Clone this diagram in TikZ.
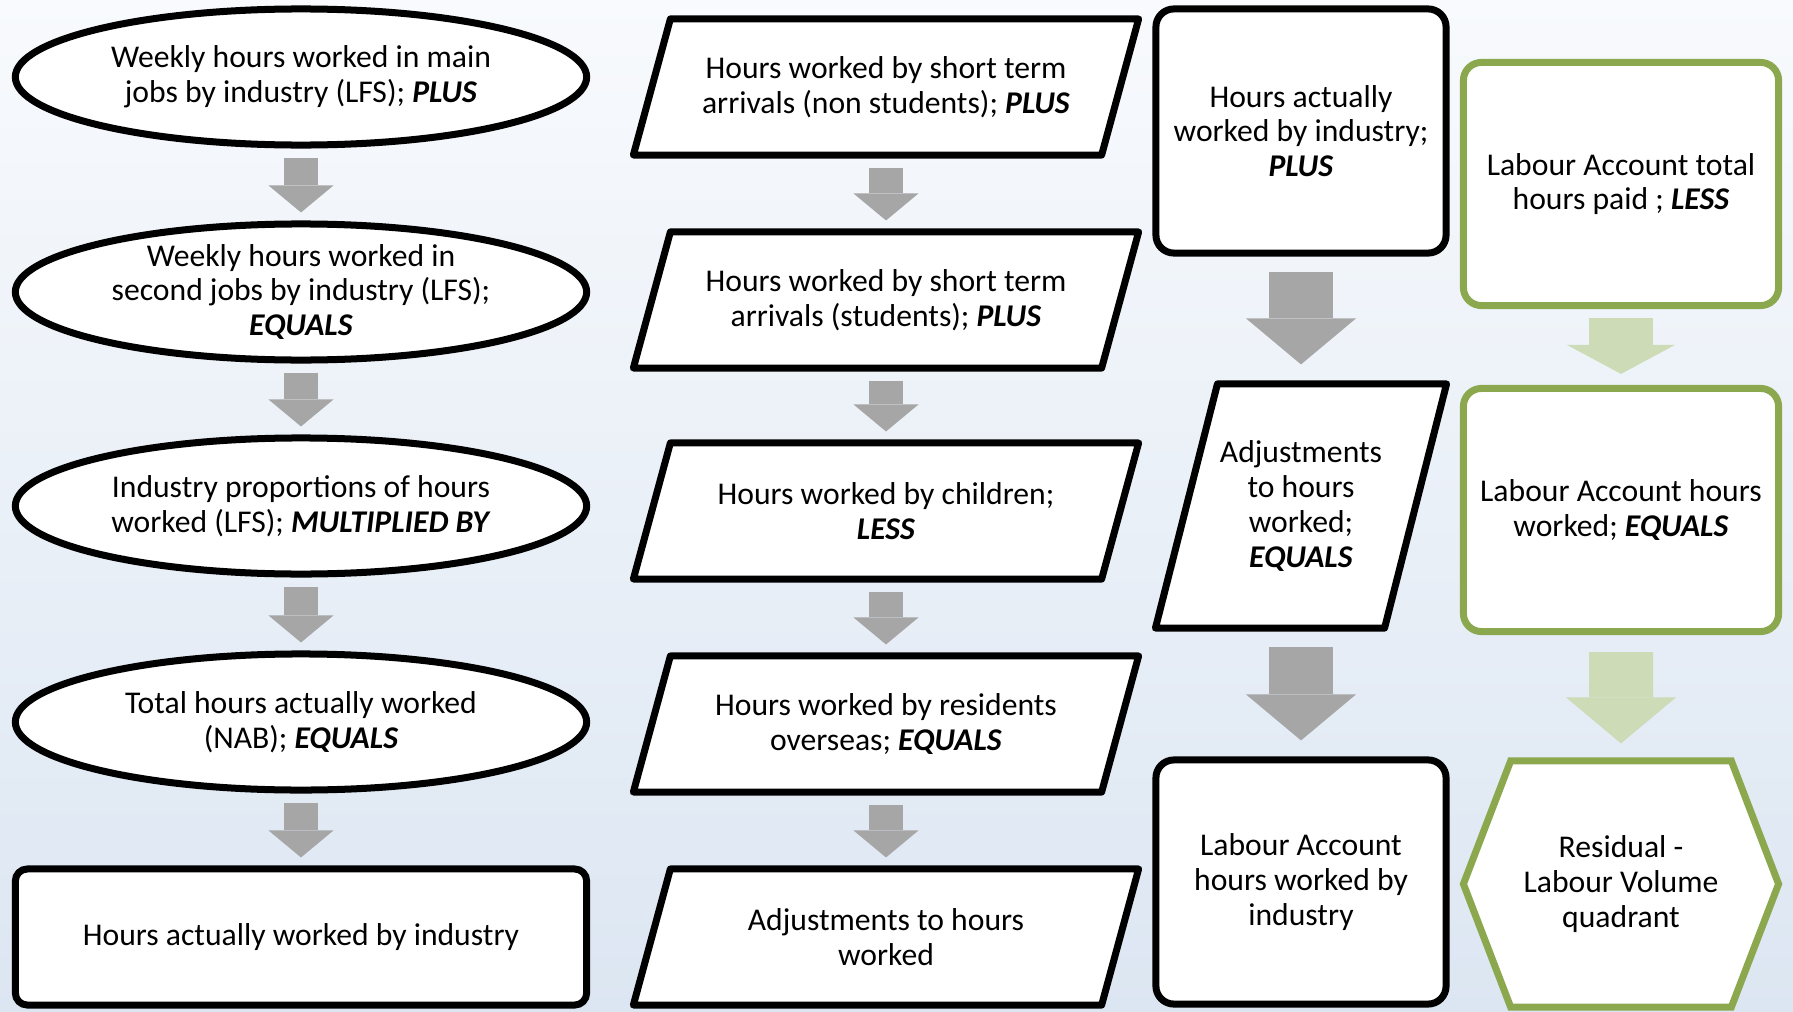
\documentclass[tikz,border=0pt]{standalone}
\usepackage{fontspec}
\setmainfont{Carlito}
\usetikzlibrary{shapes.geometric,shapes.symbols,arrows.meta,calc,backgrounds}
\definecolor{bgtop}{HTML}{F8FAFD}
\definecolor{bgmid}{HTML}{E1E9F4}
\definecolor{bgbottom}{HTML}{DCE6F2}
\definecolor{arrowgray}{HTML}{A6A6A6}
\definecolor{olive}{HTML}{8BA84E}
\definecolor{palegreen}{HTML}{CDDBB6}
\newcommand{\thickness}{0.07cm}
\newcommand{\lbl}{\fontsize{9pt}{9.9pt}\selectfont}
\newcommand{\op}[1]{\textbf{\textit{#1}}}
\newcommand{\slantpath}[2]{\draw[slantline] ($(#1.south west)+(-#2,-3.5)$) -- ($(#1.south east)+(-#2,-3.5)$) -- ($(#1.north east)+(#2,3.5)$) -- ($(#1.north west)+(#2,3.5)$) -- cycle;}
\tikzset{
  box/.style={draw=black, line width=\thickness, fill=white, align=center, font=\lbl, inner sep=0pt},
  oval/.style={box, ellipse, minimum width=5.71cm, minimum height=1.36cm},
  slant/.style={rectangle, align=center, font=\lbl, inner sep=0pt, outer sep=0pt},
  slantline/.style={draw=black, line width=\thickness, fill=white, line join=round},
  roundbox/.style={box, rectangle, rounded corners=0.18cm},
  greenbox/.style={roundbox, draw=olive},
  fat/.style={draw=arrowgray, line width=0.34cm, -{Triangle[length=0.27cm, width=0.65cm, line width=0pt]}, shorten <=0.09cm, shorten >=0.08cm},
  bigfat/.style={draw=arrowgray, line width=0.64cm, -{Triangle[length=0.46cm, width=1.10cm, line width=0pt]}, shorten <=0.15cm, shorten >=0.16cm},
}

\begin{document}
\begin{tikzpicture}[x=0.01cm, y=-0.01cm]
\useasboundingbox (0,0) rectangle (1793,1012);
\begin{scope}[on background layer]
\shade[top color=bgtop, middle color=bgmid, bottom color=bgbottom] (0,0) rectangle (1793,1012);
\end{scope}
%column 1
\node[oval] (e1) at (301,77) {Weekly hours worked in main\\jobs by industry (LFS); \op{PLUS}};
\node[oval] (e2) at (301,292) {Weekly hours worked in\\second jobs by industry (LFS);\\\op{EQUALS}};
\node[oval] (e3) at (301,506) {Industry proportions of hours\\worked (LFS); \op{MULTIPLIED BY}};
\node[oval] (e4) at (301,722) {Total hours actually worked\\(NAB); \op{EQUALS}};
\node[roundbox, rounded corners=0.12cm, minimum width=5.71cm, minimum height=1.36cm] (b1) at (301,937) {Hours actually worked by industry};
\draw[fat] (e1) -- (e2);
\draw[fat] (e2) -- (e3);
\draw[fat] (e3) -- (e4);
\draw[fat] (e4) -- (b1);
%column 2
\node[slant, minimum width=4.68cm, minimum height=1.43cm] (p1) at (886,87) {Hours worked by short term\\arrivals (non students); \op{PLUS}};
\node[slant, minimum width=4.68cm, minimum height=1.43cm] (p2) at (886,300) {Hours worked by short term\\arrivals (students); \op{PLUS}};
\node[slant, minimum width=4.68cm, minimum height=1.43cm] (p3) at (886,511) {Hours worked by children;\\\op{LESS}};
\node[slant, minimum width=4.68cm, minimum height=1.43cm] (p4) at (886,724) {Hours worked by residents\\overseas; \op{EQUALS}};
\node[slant, minimum width=4.68cm, minimum height=1.43cm] (p5) at (886,937) {Adjustments to hours\\worked};
\begin{scope}[on background layer]
\foreach \p in {p1,p2,p3,p4,p5} {\slantpath{\p}{18.5}}
\end{scope}
\draw[fat] (p1) -- (p2);
\draw[fat] (p2) -- (p3);
\draw[fat] (p3) -- (p4);
\draw[fat] (p4) -- (p5);
%column 3
\node[roundbox, minimum width=2.90cm, minimum height=2.44cm] (r1) at (1301,131) {Hours actually\\worked by industry;\\\op{PLUS}};
\node[slant, minimum width=2.29cm, minimum height=2.51cm] (s1) at (1301,506) {Adjustments\\to hours\\worked;\\\op{EQUALS}};
\node[roundbox, minimum width=2.90cm, minimum height=2.44cm] (r2) at (1301,882) {Labour Account\\hours worked by\\industry};
\begin{scope}[on background layer]
\slantpath{s1}{31}
\end{scope}
\draw[bigfat] (r1) -- (s1);
\draw[bigfat] (s1) -- (r2);
%column 4
\node[greenbox, minimum width=3.15cm, minimum height=2.43cm] (g1) at (1621,184) {Labour Account total\\hours paid ; \op{LESS}};
\node[greenbox, minimum width=3.15cm, minimum height=2.43cm] (g2) at (1621,510) {Labour Account hours\\worked; \op{EQUALS}};
\node[box, draw=olive, signal, signal to=east and west, signal pointer angle=138, minimum width=3.15cm, minimum height=2.46cm] (h1) at (1621,884) {Residual -\\Labour Volume\\quadrant};
\draw[bigfat, draw=palegreen, -{Triangle[length=0.29cm, width=1.08cm, line width=0pt]}, shorten <=0.09cm, shorten >=0.11cm] (g1) -- (g2);
\draw[bigfat, draw=palegreen, shorten <=0.17cm, shorten >=0.14cm] (g2) -- (h1);
\end{tikzpicture}
\end{document}
